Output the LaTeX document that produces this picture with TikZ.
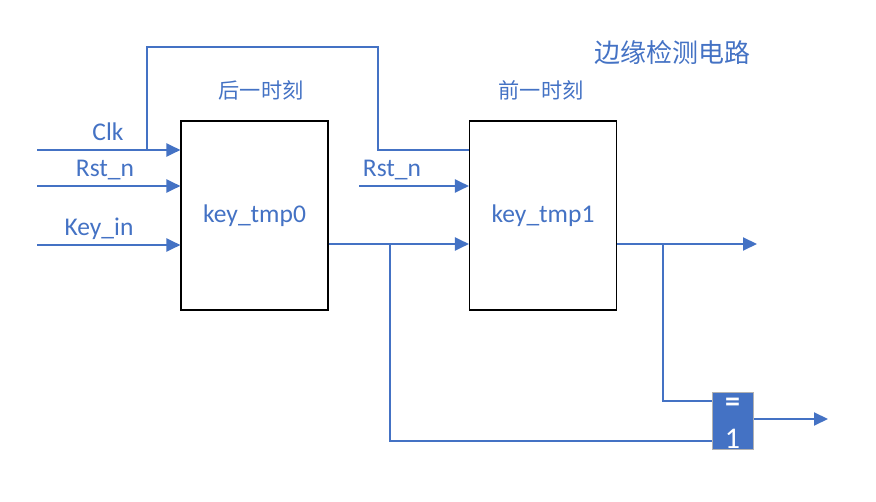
\documentclass[tikz,border=0pt]{standalone}
\usepackage{fontspec}
\setmainfont{Carlito}
\newfontfamily\cjk{Noto Sans CJK SC}
\usetikzlibrary{arrows.meta}
\definecolor{wire}{HTML}{4472C4}
\begin{document}
\begin{tikzpicture}[x=1pt,y=-1pt,
  reg/.style={draw=black,line width=1.1pt,fill=white,minimum width=147pt,minimum height=189pt,inner sep=0pt,text=wire,font=\fontsize{25.5}{28}\selectfont},
  lbl/.style={text=wire,font=\fontsize{25.5}{28}\selectfont,inner sep=0pt},
  cjklbl/.style={text=wire,font=\cjk\fontsize{21.2}{24}\selectfont,inner sep=0pt},
  wireln/.style={draw=wire,line width=2pt},
  arr/.style={wireln,-{Triangle[length=14pt,width=13pt]}},
  gate/.style={draw=gray!60,line width=1pt,fill=wire,minimum width=41pt,minimum height=57pt,inner sep=0pt}]
\useasboundingbox (0,0) rectangle (876,502);
\node[reg] (r0) at (254.5,215.5) {key\_tmp0};
\node[reg] (r1) at (543,215.5) {key\_tmp1};
\node[gate] (g) at (732.5,421.5) {};
\node[text=white,font=\bfseries\fontsize{30}{32}\selectfont,inner sep=0pt] (geq) at (732.5,405) {=};
\node[text=white,font=\fontsize{30}{32}\selectfont,inner sep=0pt] (gone) at (732.5,439) {1};
% input coordinates
\coordinate (clkin) at (37,150);
\coordinate (rstin) at (37,186);
\coordinate (keyin) at (37,245);
\coordinate (rst2in) at (359,186);
\coordinate (clkbr) at (147,150);
\coordinate (br0) at (390,244);
\coordinate (br1) at (663,244);
\coordinate (out1) at (757,244);
\coordinate (gout) at (828,419);
% wires
\draw[arr] (clkin) -- (clkin -| r0.west);
\draw[arr] (rstin) -- (rstin -| r0.west);
\draw[arr] (keyin) -- (keyin -| r0.west);
\draw[arr] (rst2in) -- (rst2in -| r1.west);
\draw[wireln,line width=1.6pt] (clkbr) -- (147,47) -- (378,47) -- (378,150) -- (r1.west |- 0,150);
\draw[arr] (r0.east |- br0) -- (br0 -| r1.west);
\draw[arr] (r1.east |- br1) -- (out1);
\draw[wireln] (br0) |- (g.west |- 0,441);
\draw[wireln] (br1) |- (g.west |- 0,401);
\draw[arr] (g.east |- gout) -- (gout);
% labels
\node[lbl] (lclk) at (108,132) {Clk};
\node[lbl] (lrst) at (105,170) {Rst\_n};
\node[lbl] (lkey) at (99,229) {Key\_in};
\node[lbl] (lrst2) at (392,170) {Rst\_n};
\node[cjklbl] (t0) at (261,90) {后一时刻};
\node[cjklbl] (t1) at (541,90) {前一时刻};
\node[text=wire,font=\cjk\fontsize{26}{30}\selectfont,inner sep=0pt] (title) at (672,53) {边缘检测电路};
\end{tikzpicture}
\end{document}
